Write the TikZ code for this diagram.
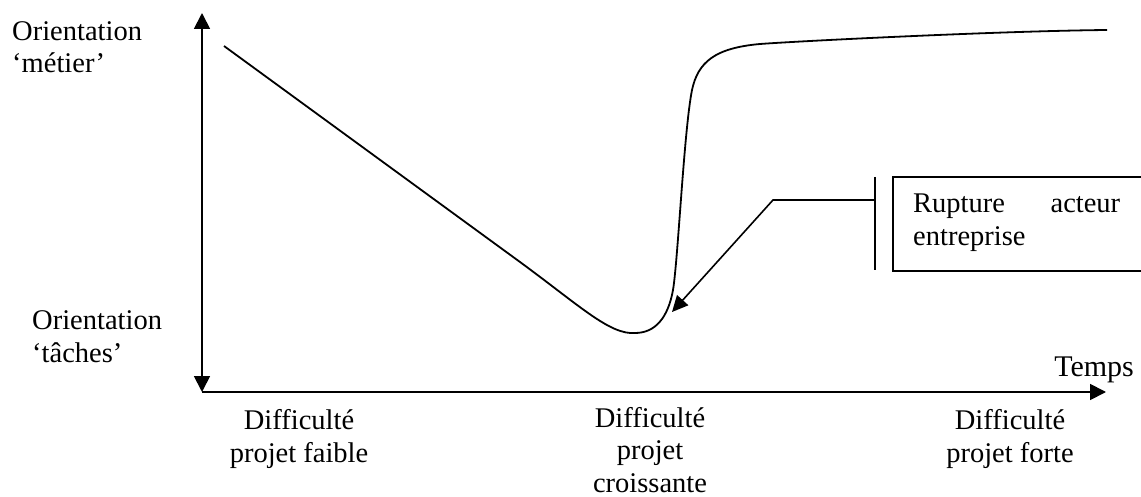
\documentclass[tikz,border=0pt]{standalone}
\usepackage{fontspec}
\setmainfont{Liberation Serif}
\usetikzlibrary{arrows.meta}
\tikzset{
  lbl/.style={font=\fontsize{28.5}{32.5}\selectfont, inner sep=0pt},
  axis/.style={line width=1.8pt, -{Triangle[length=16pt,width=16pt]}},
  curve/.style={line width=1.8pt},
  callout/.style={line width=1.6pt},
}
\begin{document}
\begin{tikzpicture}[x=1pt,y=-1pt]
\useasboundingbox (0,0) rectangle (1141,497);
\clip (0,0) rectangle (1141,497);
% axes
\coordinate (O) at (202,392);
\coordinate (ytop) at (202,13);
\coordinate (xend) at (1106,392);
\draw[axis, {Triangle[length=16pt,width=16pt]}-{Triangle[length=16pt,width=16pt]}] (ytop) -- (O);
\draw[axis] (O) -- (xend);
% curve
\draw[curve] (224,46) -- (520,262) .. controls (580,306) and (610,335) .. (635,333)
  .. controls (655,333) and (668,318) .. (673,290)
  .. controls (678,260) and (684,130) .. (692,90)
  .. controls (698,62) and (715,48) .. (760,44)
  .. controls (800,41) and (1000,31) .. (1107,30);
% callout
\coordinate (vt) at (875,177);
\coordinate (vb) at (875,270);
\coordinate (vm) at (875,200);
\coordinate (bend) at (773,200);
\coordinate (tip) at (672,312);
\draw[callout] (vt) -- (vb);
\draw[callout, -{Triangle[length=16pt,width=15pt]}] (vm) -- (bend) -- (tip);
\node[draw, line width=1.6pt, anchor=north west, minimum width=262pt, minimum height=94pt, inner sep=0pt] (box) at (892,176) {};
\node[lbl, anchor=base west, text width=207pt, align=justify] (boxtext) at (913,213) {Rupture acteur entreprise};
% labels
\node[lbl, anchor=base west, align=left] (om) at (12,73) {Orientation\\`métier'};
\node[lbl, anchor=base west, align=left] (ot) at (32,362) {Orientation\\`tâches'};
\node[lbl, anchor=base east, font=\fontsize{30}{34}\selectfont] (temps) at (1134,376) {Temps};
\node[lbl, anchor=base, align=center] (d1) at (299,462) {Difficulté\\projet faible};
\node[lbl, anchor=base, align=center] (d2) at (650,492) {Difficulté\\projet\\croissante};
\node[lbl, anchor=base, align=center] (d3) at (1010,462) {Difficulté\\projet forte};
\end{tikzpicture}
\end{document}
